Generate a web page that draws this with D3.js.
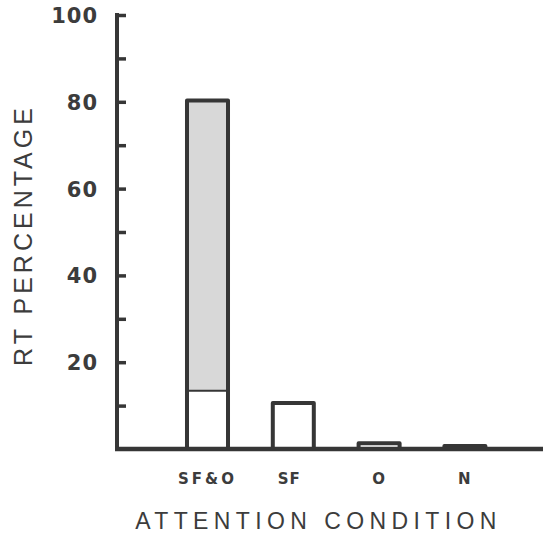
<!DOCTYPE html>
<html><head><meta charset="utf-8">
<script src="https://cdn.jsdelivr.net/npm/d3@7"></script>
<style>body{margin:0;background:#fff;}svg{display:block;}</style>
</head><body>
<script>
const categories = ["SF&O", "SF", "O", "N"];
const baseValues = [13.4, 10.6, 1.3, 0.7];
const shadedValues = [66.9, 0, 0, 0];
const tickLabels = [20, 40, 60, 80, 100];
const minorTicks = [10, 20, 30, 40, 50, 60, 70, 80, 90, 100];

const W = 543, H = 533;
const ink = "#363636";
const svg = d3.select("body").append("svg").attr("width", W).attr("height", H);

const y = d3.scaleLinear().domain([0, 100]).range([449, 15]);
const x = d3.scaleBand().domain(categories).range([164.6, 507.8]).paddingInner(0.522).paddingOuter(0.261);
const axisX = 117;

// tick marks (inward)
const tAxis = svg.append("g").attr("transform", `translate(${axisX},0)`)
  .call(d3.axisRight(y).tickValues(minorTicks).tickSize(9).tickFormat(""));
tAxis.select(".domain").remove();
tAxis.selectAll("line").attr("stroke", ink).attr("stroke-width", 3.5);

// tick labels
const lAxis = svg.append("g").attr("transform", `translate(98,0)`)
  .call(d3.axisLeft(y).tickValues(tickLabels).tickSize(0).tickPadding(0));
lAxis.select(".domain").remove();
lAxis.selectAll("text").attr("fill", "#3c3c3c").attr("font-family", "DejaVu Sans")
  .attr("font-weight", "bold").attr("font-size", 21).attr("letter-spacing", 1)
  .attr("text-anchor", "end").attr("dy", "0.36em");

// bars
const rows = categories.map((c, i) => ({c, b: baseValues[i], s: shadedValues[i]}));
const g = svg.append("g");
rows.forEach(d => {
  if (d.s > 0) {
    g.append("rect").attr("x", x(d.c)).attr("width", x.bandwidth())
      .attr("y", y(d.b + d.s)).attr("height", y(d.b) - y(d.b + d.s))
      .attr("fill", "#d8d8d8").attr("stroke", "none");
    g.append("line").attr("x1", x(d.c)).attr("x2", x(d.c) + x.bandwidth())
      .attr("y1", y(d.b)).attr("y2", y(d.b)).attr("stroke", ink).attr("stroke-width", 2);
  }
  const top = d.b + d.s;
  g.append("rect").attr("x", x(d.c)).attr("width", x.bandwidth())
    .attr("y", y(top)).attr("height", y(0) - y(top))
    .attr("fill", d.s > 0 ? "none" : "#fff").attr("stroke", ink).attr("stroke-width", 4)
    .attr("stroke-linejoin", "round");
});

// axis lines
svg.append("line").attr("x1", axisX).attr("x2", axisX).attr("y1", y(100) - 2).attr("y2", y(0) + 2)
  .attr("stroke", ink).attr("stroke-width", 4);
svg.append("line").attr("x1", axisX - 2).attr("x2", W).attr("y1", y(0)).attr("y2", y(0))
  .attr("stroke", ink).attr("stroke-width", 4.5);

// category labels
svg.append("g").selectAll("text").data(categories).join("text")
  .attr("x", d => x(d) + x.bandwidth() / 2 - (d === "SF" ? 4 : 0))
  .attr("y", 484).attr("text-anchor", "middle")
  .attr("font-family", "DejaVu Sans").attr("font-weight", "bold").attr("font-size", 15)
  .attr("letter-spacing", d => d === "SF&O" ? 3 : 1)
  .attr("fill", "#3c3c3c").text(d => d);

// axis titles
svg.append("text").attr("x", 318.5).attr("y", 529).attr("text-anchor", "middle")
  .attr("font-family", "Liberation Sans").attr("font-size", 23).attr("letter-spacing", 5.4)
  .attr("fill", "#3c3c3c").text("ATTENTION CONDITION");
svg.append("text").attr("transform", "translate(32,235) rotate(-90)").attr("text-anchor", "middle")
  .attr("font-family", "Liberation Sans").attr("font-size", 25).attr("letter-spacing", 4)
  .attr("fill", "#3c3c3c").text("RT PERCENTAGE");
</script>
</body></html>
